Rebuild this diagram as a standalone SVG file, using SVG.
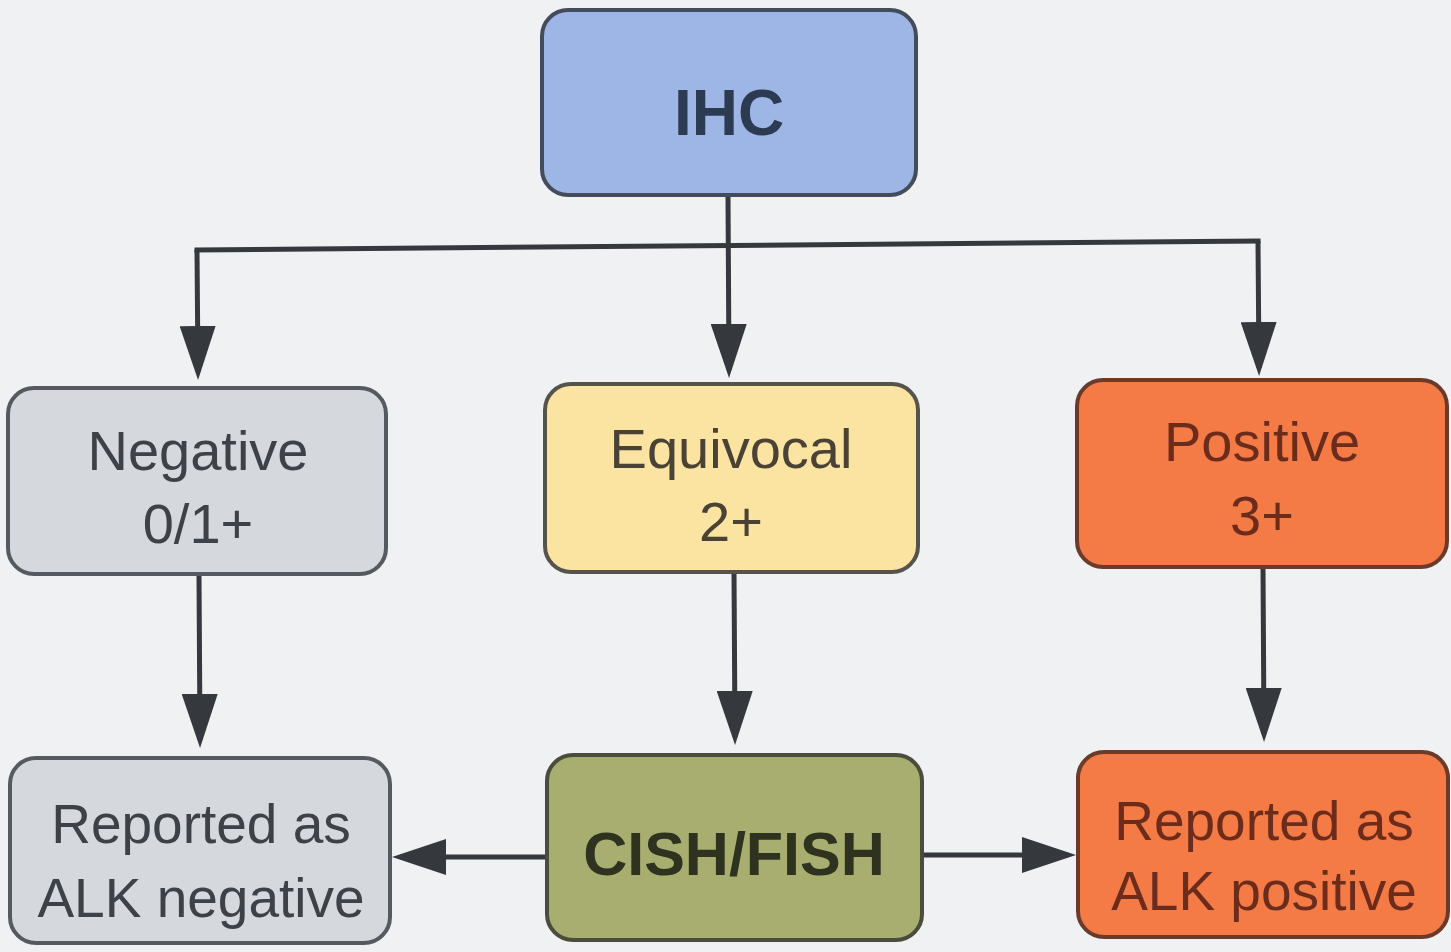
<svg xmlns="http://www.w3.org/2000/svg" width="1451" height="952" viewBox="0 0 1451 952">
<defs>
<style>
.lbl{font-family:"Liberation Sans","Open Sans",sans-serif;text-anchor:middle}
.box{stroke-width:4}
.con{fill:none;stroke:#35383d;stroke-width:5}
</style>
<marker id="ah" viewBox="0 0 54 36" refX="46" refY="18" markerWidth="54" markerHeight="36" markerUnits="userSpaceOnUse" orient="auto">
<path d="M0,0 L54,18 L0,36 Z" fill="#35383d"/>
</marker>
</defs>
<rect x="0" y="0" width="1451" height="952" fill="#eff1f3"/>
<g id="connectors">
<path class="con" d="M728,195 L729,370" marker-end="url(#ah)"/>
<path class="con" d="M197,250 L1258,241" stroke-linecap="square"/>
<path class="con" d="M197,250 L198,372" marker-end="url(#ah)"/>
<path class="con" d="M1258,241 L1259,368" marker-end="url(#ah)"/>
<path class="con" d="M199,575 L200,740" marker-end="url(#ah)"/>
<path class="con" d="M734,572 L735,737" marker-end="url(#ah)"/>
<path class="con" d="M1263,567 L1264,734" marker-end="url(#ah)"/>
<path class="con" d="M547,857 L400,857" marker-end="url(#ah)"/>
<path class="con" d="M922,855 L1068,855" marker-end="url(#ah)"/>
</g>
<g id="ihc">
<rect class="box" x="542" y="10" width="374" height="185" rx="26" fill="#9db6e6" stroke="#434c5a"/>
<text class="lbl" x="729" y="135" font-size="64" font-weight="bold" fill="#2c3a52">IHC</text>
</g>
<g id="negative">
<rect class="box" x="8" y="388" width="378" height="186" rx="26" fill="#d5d9de" stroke="#555a61"/>
<text class="lbl" x="198" y="470" font-size="56" fill="#3d4148">Negative</text>
<text class="lbl" x="198" y="543" font-size="56" fill="#3d4148">0/1+</text>
</g>
<g id="equivocal">
<rect class="box" x="545" y="384" width="373" height="188" rx="26" fill="#fbe3a2" stroke="#55534c"/>
<text class="lbl" x="731" y="468" font-size="56" fill="#4a4235">Equivocal</text>
<text class="lbl" x="731" y="541" font-size="56" fill="#4a4235">2+</text>
</g>
<g id="positive">
<rect class="box" x="1077" y="380" width="370" height="187" rx="26" fill="#f47a46" stroke="#6a3b2b"/>
<text class="lbl" x="1262" y="461" font-size="56" fill="#6b2c1c">Positive</text>
<text class="lbl" x="1262" y="535" font-size="56" fill="#6b2c1c">3+</text>
</g>
<g id="cish">
<rect class="box" x="547" y="755" width="375" height="185" rx="26" fill="#a8ae6f" stroke="#4a4d3b"/>
<text class="lbl" x="734" y="875" font-size="61" font-weight="bold" fill="#2e321f">CISH/FISH</text>
</g>
<g id="report-negative">
<rect class="box" x="10" y="758" width="380" height="185" rx="26" fill="#d5d9de" stroke="#555a61"/>
<text class="lbl" x="201" y="843" font-size="55" fill="#3d4148">Reported as</text>
<text class="lbl" x="201" y="917" font-size="55" fill="#3d4148">ALK negative</text>
</g>
<g id="report-positive">
<rect class="box" x="1078" y="752" width="370" height="185" rx="26" fill="#f47a46" stroke="#6a3b2b"/>
<text class="lbl" x="1264" y="840" font-size="55" fill="#6b2c1c">Reported as</text>
<text class="lbl" x="1264" y="910" font-size="55" fill="#6b2c1c">ALK positive</text>
</g>
</svg>
